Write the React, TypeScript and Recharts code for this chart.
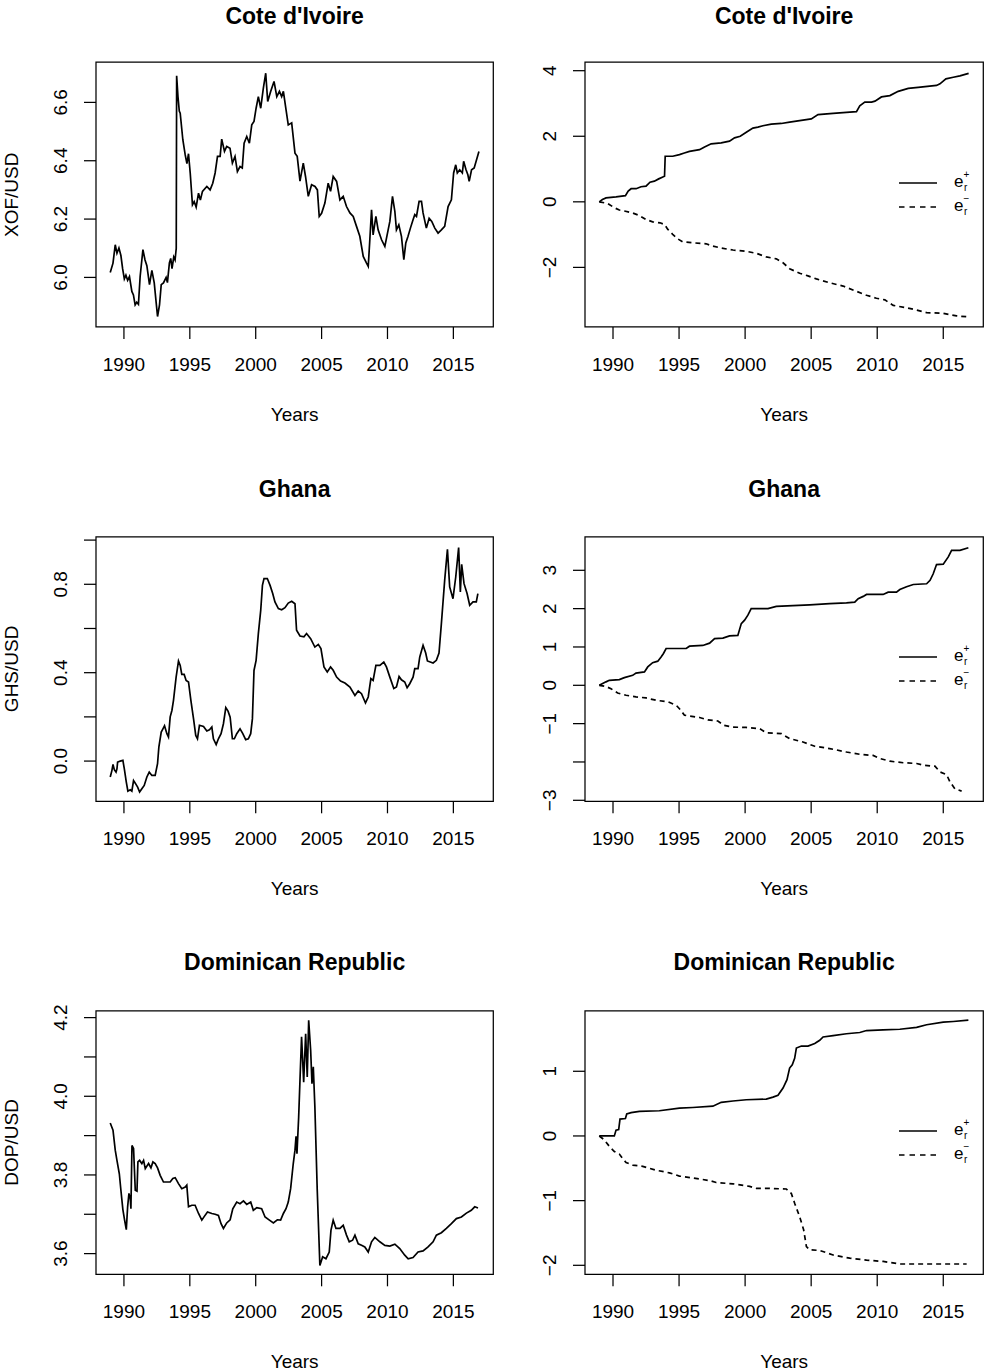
import React from 'react';
import { LineChart, Line, XAxis, YAxis, ReferenceArea, Legend } from 'recharts';

const FONT = '"Liberation Sans", Arial, Helvetica, sans-serif';

const yearTicks = [1990, 1995, 2000, 2005, 2010, 2015];
const yearDomain: [number, number] = [1987.88, 2018.03];

// ---------- Cote d'Ivoire: XOF/USD (log) ----------
const cdiYears = [
  1988.96, 1989.17, 1989.34, 1989.47, 1989.62, 1989.77, 1989.9, 1990.03, 1990.15, 1990.28,
  1990.42, 1990.6, 1990.72, 1990.85, 1990.97, 1991.1, 1991.23, 1991.44, 1991.6, 1991.74,
  1991.94, 1992.12, 1992.3, 1992.45, 1992.55, 1992.7, 1992.83, 1993.0, 1993.2, 1993.3,
  1993.45, 1993.55, 1993.65, 1993.78, 1993.88, 1993.97, 1994.0, 1994.1, 1994.2, 1994.27,
  1994.47, 1994.65, 1994.78, 1994.9, 1995.03, 1995.2, 1995.33, 1995.48, 1995.66, 1995.8,
  1995.96, 1996.29, 1996.54, 1996.74, 1996.92, 1997.1, 1997.3, 1997.42, 1997.63, 1997.8,
  1998.05, 1998.23, 1998.43, 1998.61, 1998.81, 1998.98, 1999.12, 1999.32, 1999.52, 1999.7,
  1999.87, 2000.03, 2000.2, 2000.38, 2000.58, 2000.76, 2000.91, 2001.14, 2001.39, 2001.6,
  2001.8, 2001.97, 2002.1, 2002.3, 2002.47, 2002.73, 2002.98, 2003.15, 2003.36, 2003.61,
  2003.78, 2003.99, 2004.24, 2004.5, 2004.68, 2004.82, 2005.0, 2005.25, 2005.5, 2005.68,
  2005.88, 2006.14, 2006.39, 2006.64, 2006.89, 2007.15, 2007.4, 2007.65, 2007.9, 2008.16,
  2008.41, 2008.54, 2008.66, 2008.79, 2008.91, 2009.12, 2009.29, 2009.55, 2009.8, 2010.05,
  2010.18, 2010.38, 2010.56, 2010.68, 2010.86, 2011.06, 2011.24, 2011.39, 2011.56, 2011.74,
  2011.94, 2012.07, 2012.2, 2012.4, 2012.58, 2012.7, 2012.95, 2013.16, 2013.36, 2013.59,
  2013.84, 2014.09, 2014.34, 2014.6, 2014.85, 2015.02, 2015.18, 2015.3, 2015.48, 2015.68,
  2015.78, 2015.96, 2016.1, 2016.2, 2016.38, 2016.58, 2016.94,
];
const cdiRate = [
  6.017, 6.049, 6.112, 6.083, 6.101, 6.075, 6.03, 5.995, 6.008, 5.99,
  6.003, 5.952, 5.94, 5.906, 5.915, 5.908, 6.003, 6.095, 6.06, 6.04,
  5.975, 6.024, 5.981, 5.912, 5.866, 5.906, 5.975, 5.981, 6.0, 5.982,
  6.05, 6.065, 6.03, 6.07, 6.06, 6.1, 6.691, 6.62, 6.57, 6.563,
  6.472, 6.42, 6.39, 6.424, 6.358, 6.249, 6.26, 6.241, 6.289, 6.265,
  6.295, 6.312, 6.3, 6.323, 6.358, 6.415, 6.415, 6.474, 6.432, 6.449,
  6.443, 6.392, 6.415, 6.363, 6.38, 6.375, 6.46, 6.483, 6.46, 6.523,
  6.535, 6.58, 6.62, 6.58, 6.649, 6.7, 6.603, 6.638, 6.672, 6.62,
  6.638, 6.62, 6.638, 6.575, 6.523, 6.53, 6.426, 6.415, 6.33, 6.392,
  6.346, 6.278, 6.318, 6.312, 6.3, 6.209, 6.22, 6.255, 6.323, 6.295,
  6.346, 6.329, 6.266, 6.278, 6.243, 6.221, 6.209, 6.175, 6.141, 6.072,
  6.049, 6.038, 6.129, 6.232, 6.146, 6.209, 6.163, 6.129, 6.106, 6.163,
  6.192, 6.278, 6.226, 6.163, 6.18, 6.141, 6.061, 6.118, 6.141, 6.169,
  6.198, 6.215, 6.209, 6.261, 6.261, 6.221, 6.169, 6.203, 6.192, 6.169,
  6.152, 6.163, 6.175, 6.243, 6.266, 6.358, 6.386, 6.358, 6.369, 6.358,
  6.398, 6.369, 6.352, 6.329, 6.369, 6.375, 6.432,
];
const cdiPosYears = [
  1988.96, 1989.2, 1989.47, 1990.23, 1990.94, 1991.15, 1991.37, 1991.75, 1992.12, 1992.5,
  1992.8, 1993.13, 1993.46, 1993.77, 1993.9, 1993.95, 1994.52, 1995.03, 1995.4, 1995.79,
  1996.55, 1996.93, 1997.43, 1998.19, 1998.82, 1999.2, 1999.63, 2000.09, 2000.59, 2000.97,
  2001.35, 2001.98, 2002.74, 2003.37, 2004.0, 2005.01, 2005.52, 2006.66, 2007.67, 2008.43,
  2008.68, 2009.06, 2009.57, 2009.83, 2010.32, 2010.96, 2011.59, 2012.35, 2013.1, 2014.49,
  2014.75, 2015.2, 2015.76, 2016.26, 2016.92,
];
const cdiPos = [
  0, 0.07, 0.12, 0.15, 0.19, 0.33, 0.4, 0.4, 0.46, 0.48,
  0.6, 0.63, 0.7, 0.76, 0.78, 1.39, 1.39, 1.44, 1.49, 1.54,
  1.59, 1.67, 1.77, 1.8, 1.85, 1.95, 2.0, 2.12, 2.25, 2.28,
  2.32, 2.37, 2.39, 2.43, 2.47, 2.53, 2.66, 2.7, 2.73, 2.75,
  2.93, 3.04, 3.04, 3.07, 3.2, 3.24, 3.37, 3.46, 3.49, 3.55,
  3.6, 3.75, 3.8, 3.84, 3.92,
];
const cdiNegYears = [
  1988.96, 1989.6, 1990.1, 1990.48, 1990.86, 1991.49, 1992.0, 1992.5, 1993.0, 1993.56,
  1993.9, 1994.15, 1994.52, 1994.9, 1995.28, 1996.04, 1997.05, 1997.56, 1998.19, 1999.08,
  2000.09, 2000.85, 2001.6, 2002.36, 2002.87, 2003.37, 2004.13, 2004.76, 2005.39, 2006.4,
  2007.42, 2008.43, 2009.19, 2009.94, 2010.58, 2011.21, 2012.22, 2012.98, 2013.74, 2015.0,
  2016.01, 2016.92,
];
const cdiNeg = [
  0, -0.05, -0.18, -0.25, -0.28, -0.34, -0.42, -0.54, -0.61, -0.64,
  -0.69, -0.84, -0.99, -1.13, -1.22, -1.25, -1.28, -1.35, -1.41, -1.47,
  -1.51, -1.57, -1.68, -1.74, -1.86, -2.04, -2.18, -2.26, -2.35, -2.47,
  -2.57, -2.73, -2.85, -2.94, -2.99, -3.16, -3.23, -3.3, -3.38, -3.4,
  -3.48, -3.51,
];

// ---------- Ghana: GHS/USD (log) ----------
const ghaYears = [
  1988.96, 1989.09, 1989.17, 1989.27, 1989.4, 1989.47, 1989.52, 1989.72, 1989.92, 1990.03,
  1990.18, 1990.3, 1990.48, 1990.6, 1990.73, 1990.86, 1991.04, 1991.19, 1991.36, 1991.54,
  1991.74, 1991.92, 1992.12, 1992.37, 1992.55, 1992.65, 1992.83, 1992.95, 1993.08, 1993.26,
  1993.38, 1993.51, 1993.64, 1993.76, 1993.96, 1994.14, 1994.27, 1994.39, 1994.57, 1994.72,
  1994.9, 1995.08, 1995.28, 1995.45, 1995.58, 1995.73, 1996.04, 1996.29, 1996.49, 1996.67,
  1996.79, 1997.0, 1997.17, 1997.37, 1997.55, 1997.73, 1997.9, 1998.06, 1998.23, 1998.38,
  1998.56, 1998.81, 1999.02, 1999.24, 1999.44, 1999.62, 1999.75, 1999.87, 2000.03, 2000.2,
  2000.38, 2000.51, 2000.63, 2000.88, 2001.09, 2001.29, 2001.46, 2001.72, 2001.97, 2002.22,
  2002.47, 2002.73, 2002.98, 2003.1, 2003.36, 2003.66, 2003.86, 2004.17, 2004.49, 2004.75,
  2004.95, 2005.18, 2005.43, 2005.68, 2005.88, 2006.14, 2006.44, 2006.77, 2007.15, 2007.53,
  2007.78, 2008.03, 2008.33, 2008.54, 2008.74, 2008.91, 2009.12, 2009.42, 2009.72, 2009.92,
  2010.18, 2010.48, 2010.68, 2010.88, 2011.06, 2011.31, 2011.49, 2011.69, 2011.94, 2012.07,
  2012.32, 2012.45, 2012.7, 2012.9, 2013.03, 2013.46, 2013.71, 2013.91, 2014.09, 2014.34,
  2014.55, 2014.72, 2014.97, 2015.18, 2015.4, 2015.53, 2015.63, 2015.81, 2016.04, 2016.24,
  2016.49, 2016.74, 2016.86,
];
const ghaRate = [
  -0.072, -0.042, -0.015, -0.039, -0.05, -0.035, -0.005, 0.0, 0.003, -0.035,
  -0.095, -0.136, -0.13, -0.136, -0.088, -0.1, -0.118, -0.14, -0.125, -0.11,
  -0.072, -0.05, -0.065, -0.065, -0.012, 0.063, 0.131, 0.145, 0.16, 0.124,
  0.109, 0.2, 0.229, 0.275, 0.38, 0.453, 0.433, 0.392, 0.392, 0.365,
  0.358, 0.275, 0.192, 0.116, 0.101, 0.162, 0.157, 0.136, 0.142, 0.154,
  0.101, 0.075, 0.101, 0.124, 0.169, 0.242, 0.226, 0.199, 0.101, 0.101,
  0.124, 0.146, 0.124, 0.097, 0.101, 0.124, 0.192, 0.41, 0.456, 0.577,
  0.682, 0.795, 0.826, 0.826, 0.795, 0.758, 0.72, 0.69, 0.685, 0.694,
  0.715, 0.723, 0.712, 0.592, 0.566, 0.562, 0.577, 0.554, 0.516, 0.528,
  0.509, 0.426, 0.403, 0.426, 0.411, 0.38, 0.362, 0.353, 0.335, 0.297,
  0.317, 0.305, 0.263, 0.29, 0.373, 0.365, 0.433, 0.433, 0.448, 0.426,
  0.38, 0.328, 0.335, 0.383, 0.368, 0.358, 0.332, 0.35, 0.38, 0.418,
  0.418, 0.471, 0.524, 0.489, 0.453, 0.444, 0.456, 0.489, 0.622, 0.818,
  0.958, 0.788, 0.735, 0.833, 0.966, 0.765, 0.89, 0.803, 0.758, 0.705,
  0.72, 0.72, 0.758,
];
const ghaPosYears = [
  1988.96, 1989.47, 1989.72, 1990.48, 1990.86, 1991.49, 1991.74, 1992.38, 1992.63, 1993.0,
  1993.39, 1993.64, 1993.82, 1994.02, 1995.54, 1995.79, 1996.8, 1997.31, 1997.69, 1998.32,
  1998.82, 1999.45, 1999.71, 1999.96, 2000.21, 2000.46, 2001.73, 2002.36, 2003.62, 2004.89,
  2006.4, 2007.67, 2008.3, 2008.56, 2008.94, 2009.19, 2010.45, 2010.83, 2011.46, 2011.71,
  2012.22, 2012.73, 2013.74, 2014.0, 2014.24, 2014.49, 2015.0, 2015.38, 2015.63, 2016.26,
  2016.9,
];
const ghaPos = [
  0, 0.09, 0.13, 0.15, 0.2, 0.26, 0.32, 0.35, 0.48, 0.59,
  0.63, 0.74, 0.83, 0.96, 0.96, 1.02, 1.04, 1.1, 1.22, 1.23,
  1.29, 1.3, 1.61, 1.7, 1.83, 2.0, 2.0, 2.06, 2.08, 2.1,
  2.13, 2.15, 2.17, 2.26, 2.32, 2.37, 2.37, 2.43, 2.43, 2.5,
  2.57, 2.63, 2.65, 2.74, 2.91, 3.15, 3.16, 3.35, 3.52, 3.52,
  3.59,
];
const ghaNegYears = [
  1988.96, 1989.47, 1989.85, 1990.35, 1990.99, 1991.74, 1992.5, 1993.26, 1994.15, 1994.78,
  1995.03, 1995.41, 1996.55, 1997.18, 1997.94, 1998.37, 1999.08, 2000.09, 2001.1, 2001.6,
  2002.74, 2003.37, 2004.38, 2005.27, 2006.4, 2007.67, 2008.68, 2009.69, 2010.2, 2010.96,
  2011.97, 2012.98, 2013.61, 2014.37, 2014.75, 2015.25, 2015.51, 2015.88, 2016.39,
];
const ghaNeg = [
  0, -0.03, -0.09, -0.2, -0.26, -0.3, -0.33, -0.39, -0.43, -0.52,
  -0.61, -0.78, -0.84, -0.9, -0.93, -1.04, -1.09, -1.1, -1.13, -1.24,
  -1.26, -1.39, -1.48, -1.59, -1.65, -1.74, -1.8, -1.83, -1.91, -1.98,
  -2.02, -2.04, -2.09, -2.11, -2.26, -2.33, -2.52, -2.7, -2.76,
];

// ---------- Dominican Republic: DOP/USD (log) ----------
const domYears = [
  1988.96, 1989.17, 1989.34, 1989.47, 1989.65, 1989.77, 1989.92, 1990.05, 1990.18, 1990.28,
  1990.38, 1990.48, 1990.53, 1990.61, 1990.73, 1990.86, 1990.99, 1991.06, 1991.19, 1991.36,
  1991.49, 1991.62, 1991.87, 1992.05, 1992.2, 1992.37, 1992.55, 1992.75, 1993.0, 1993.26,
  1993.51, 1993.71, 1993.89, 1994.14, 1994.39, 1994.65, 1994.77, 1994.9, 1995.15, 1995.4,
  1995.66, 1995.91, 1996.09, 1996.34, 1996.67, 1996.92, 1997.17, 1997.37, 1997.55, 1997.8,
  1998.06, 1998.26, 1998.56, 1998.81, 1999.07, 1999.32, 1999.62, 1999.82, 2000.08, 2000.45,
  2000.71, 2001.04, 2001.34, 2001.64, 2001.89, 2002.1, 2002.3, 2002.47, 2002.65, 2002.85,
  2002.98, 2003.06, 2003.13, 2003.26, 2003.36, 2003.48, 2003.64, 2003.79, 2003.91, 2004.02,
  2004.17, 2004.27, 2004.37, 2004.49, 2004.67, 2004.87, 2005.08, 2005.33, 2005.58, 2005.71,
  2005.88, 2006.09, 2006.39, 2006.64, 2006.89, 2007.1, 2007.35, 2007.53, 2007.78, 2008.03,
  2008.28, 2008.54, 2008.79, 2009.04, 2009.42, 2009.8, 2010.18, 2010.56, 2010.93, 2011.31,
  2011.57, 2011.94, 2012.32, 2012.7, 2013.08, 2013.46, 2013.71, 2014.09, 2014.47, 2014.85,
  2015.23, 2015.61, 2015.99, 2016.36, 2016.62, 2016.87,
];
const domRate = [
  3.932, 3.914, 3.863, 3.837, 3.803, 3.761, 3.712, 3.685, 3.661, 3.719,
  3.753, 3.74, 3.714, 3.875, 3.867, 3.761, 3.759, 3.833, 3.837, 3.829,
  3.837, 3.816, 3.829, 3.818, 3.833, 3.829, 3.818, 3.799, 3.782, 3.782,
  3.782, 3.791, 3.793, 3.778, 3.765, 3.769, 3.774, 3.719, 3.723, 3.723,
  3.702, 3.685, 3.694, 3.706, 3.702, 3.7, 3.697, 3.676, 3.664, 3.678,
  3.686, 3.714, 3.731, 3.727, 3.734, 3.725, 3.731, 3.71, 3.717, 3.714,
  3.693, 3.685, 3.678, 3.686, 3.685, 3.702, 3.714, 3.731, 3.765, 3.829,
  3.863, 3.898, 3.854, 3.947, 4.041, 4.151, 4.036, 4.159, 4.049, 4.193,
  4.117, 4.032, 4.075, 3.973, 3.761, 3.57, 3.592, 3.587, 3.604, 3.659,
  3.685, 3.664, 3.664, 3.672, 3.647, 3.63, 3.634, 3.647, 3.625, 3.621,
  3.617, 3.604, 3.63, 3.641, 3.63, 3.621, 3.619, 3.624, 3.613, 3.596,
  3.587, 3.59, 3.604, 3.607, 3.617, 3.63, 3.647, 3.653, 3.664, 3.676,
  3.689, 3.693, 3.703, 3.71, 3.719, 3.716,
];
const domPosYears = [
  1988.96, 1990.1, 1990.23, 1990.43, 1990.53, 1990.94, 1991.04, 1991.37, 1992.0, 1993.51,
  1995.03, 1996.04, 1997.56, 1998.19, 1999.08, 2000.09, 2001.6, 2002.11, 2002.49, 2002.87,
  2003.17, 2003.37, 2003.57, 2003.75, 2003.88, 2004.26, 2004.76, 2005.27, 2005.65, 2005.9,
  2006.66, 2007.67, 2008.68, 2009.19, 2010.45, 2011.71, 2012.98, 2013.74, 2015.0, 2015.76,
  2016.9,
];
const domPos = [
  0, 0, 0.09, 0.1, 0.26, 0.27, 0.34, 0.36, 0.38, 0.39,
  0.43, 0.44, 0.46, 0.52, 0.54, 0.56, 0.57, 0.6, 0.63, 0.74,
  0.87, 1.05, 1.1, 1.2, 1.36, 1.39, 1.39, 1.43, 1.48, 1.53,
  1.55, 1.58, 1.6, 1.63, 1.64, 1.65, 1.68, 1.72, 1.76, 1.77,
  1.79,
];
const domNegYears = [
  1988.96, 1989.34, 1989.72, 1990.1, 1990.48, 1990.73, 1990.99, 1991.49, 1992.25, 1993.26,
  1994.27, 1995.03, 1996.04, 1997.31, 1997.81, 1999.08, 2000.34, 2000.85, 2001.6, 2003.12,
  2003.5, 2003.75, 2004.13, 2004.43, 2004.64, 2004.89, 2005.65, 2006.66, 2007.92, 2009.19,
  2010.45, 2011.71, 2012.98, 2014.24, 2015.51, 2016.77,
];
const domNeg = [
  0, -0.06, -0.16, -0.24, -0.28, -0.35, -0.41, -0.45, -0.47, -0.53,
  -0.57, -0.62, -0.65, -0.69, -0.72, -0.74, -0.78, -0.81, -0.81, -0.82,
  -0.89, -1.04, -1.25, -1.45, -1.71, -1.76, -1.77, -1.84, -1.89, -1.92,
  -1.94, -1.98, -1.98, -1.98, -1.98, -1.98,
];

// ---------- axis ticks ----------
const cdiRateTicks = [6.0, 6.2, 6.4, 6.6];
const cdiRateLabels = ['6.0', '6.2', '6.4', '6.6'];
const cdiCumTicks = [-2, 0, 2, 4];
const cdiCumLabels = ['\u22122', '0', '2', '4'];
const ghaRateTicks = [0, 0.2, 0.4, 0.6, 0.8, 1.0];
const ghaRateLabels = ['0.0', '', '0.4', '', '0.8', ''];
const ghaCumTicks = [-3, -2, -1, 0, 1, 2, 3];
const ghaCumLabels = ['\u22123', '', '\u22121', '0', '1', '2', '3'];
const domRateTicks = [3.6, 3.7, 3.8, 3.9, 4.0, 4.1, 4.2];
const domRateLabels = ['3.6', '', '3.8', '', '4.0', '', '4.2'];
const domCumTicks = [-2, -1, 0, 1];
const domCumLabels = ['\u22122', '\u22121', '0', '1'];

const zip = (xs: number[], ys: number[]) =>
  xs.slice(0, Math.min(xs.length, ys.length)).map((x, i) => ({ x, y: ys[i] }));

const ML = 96;
const MT = 12;
const MR = 12;
const MB = 60;
const Y_W = 60;
const X_H = 48;
const LINE_W = 1.7;
const BOX_W = 1.25;

type SeriesDef = { years: number[]; values: number[]; dashed?: boolean; name: string };

type PanelProps = {
  boxLeft: number;
  boxTop: number;
  boxW: number;
  boxH: number;
  yDomain: [number, number];
  yTicks: number[];
  yLabels: string[];
  series: SeriesDef[];
  legend?: boolean;
};

function LegendBox() {
  const tf = { fontFamily: FONT, fill: '#000' } as const;
  return (
    <svg width={90} height={52} style={{ display: 'block', overflow: 'visible' }}>
      <line x1={0} y1={12} x2={38} y2={12} stroke="#000" strokeWidth={1.5} />
      <line x1={0} y1={36} x2={38} y2={36} stroke="#000" strokeWidth={1.5} strokeDasharray="5.5 5" />
      <text x={55} y={15.5} fontSize={17} {...tf}>e</text>
      <text x={64.5} y={6.5} fontSize={10} {...tf}>+</text>
      <text x={65} y={19.5} fontSize={10} {...tf}>r</text>
      <text x={55} y={39.5} fontSize={17} {...tf}>e</text>
      <text x={64.5} y={30.5} fontSize={10} {...tf}>{'\u2212'}</text>
      <text x={65} y={44} fontSize={10} {...tf}>r</text>
    </svg>
  );
}

function Panel(p: PanelProps) {
  const width = ML + p.boxW + MR;
  const height = MT + p.boxH + MB;
  const yTick = (t: any) => {
    const v = t.payload ? t.payload.value : 0;
    const i = p.yTicks.findIndex((k) => Math.abs(k - v) < 1e-6);
    const s = i >= 0 ? p.yLabels[i] : '';
    return (
      <text
        x={t.x}
        y={t.y}
        transform={`rotate(-90 ${t.x} ${t.y})`}
        textAnchor="middle"
        fontSize={19}
        fontFamily={FONT}
        fill="#000"
      >
        {s}
      </text>
    );
  };
  const xTick = (t: any) => (
    <text x={t.x} y={t.y} dy="0.71em" textAnchor="middle" fontSize={19} fontFamily={FONT} fill="#000">
      {t.payload ? t.payload.value : ''}
    </text>
  );
  return (
    <div style={{ position: 'absolute', left: p.boxLeft - ML, top: p.boxTop - MT }}>
      <LineChart
        width={width}
        height={height}
        margin={{ top: MT, right: MR, bottom: MB - X_H, left: ML - Y_W }}
      >
        <XAxis
          type="number"
          dataKey="x"
          domain={yearDomain}
          ticks={yearTicks}
          interval={0}
          allowDataOverflow
          axisLine={false}
          stroke="#000"
          tickLine={{ stroke: '#000', strokeWidth: BOX_W }}
          tickSize={12}
          tickMargin={18.7}
          height={X_H}
          tick={xTick}
        />
        <YAxis
          type="number"
          domain={p.yDomain}
          ticks={p.yTicks}
          interval={0}
          allowDataOverflow
          axisLine={false}
          stroke="#000"
          tickLine={{ stroke: '#000', strokeWidth: BOX_W }}
          tickSize={12}
          tickMargin={17.3}
          width={Y_W}
          tick={yTick}
        />
        <ReferenceArea
          x1={yearDomain[0]}
          x2={yearDomain[1]}
          y1={p.yDomain[0]}
          y2={p.yDomain[1]}
          fill="none"
          fillOpacity={0}
          stroke="#000"
          strokeWidth={BOX_W}
          ifOverflow="visible"
        />
        {p.series.map((s) => (
          <Line
            key={s.name}
            name={s.name}
            data={zip(s.years, s.values)}
            dataKey="y"
            type="linear"
            stroke="#000"
            strokeWidth={LINE_W}
            strokeDasharray={s.dashed ? '5 4' : undefined}
            dot={false}
            activeDot={false}
            isAnimationActive={false}
          />
        ))}
        {p.legend && (
          <Legend
            layout="vertical"
            verticalAlign="middle"
            align="center"
            wrapperStyle={{
              position: 'absolute',
              left: ML + 314,
              top: MT + 108.5,
              width: 90,
              height: 52,
              margin: 0,
              padding: 0,
            }}
            content={() => <LegendBox />}
          />
        )}
      </LineChart>
    </div>
  );
}

const LEFT_X = 96;
const RIGHT_X = 585;
const LEFT_W = 397.3;
const RIGHT_W = 398.3;
const ROW_TOPS = [62.3, 536.7, 1010.7];
const ROW_H = [265, 264.3, 263.3];
const TITLE_BASE = [23.5, 496.5, 969.8];
const titles = ["Cote d'Ivoire", 'Ghana', 'Dominican Republic'];
const yNames = ['XOF/USD', 'GHS/USD', 'DOP/USD'];

export default function App() {
  const leftC = LEFT_X + LEFT_W / 2;
  const rightC = RIGHT_X + RIGHT_W / 2;
  return (
    <div
      style={{
        position: 'absolute',
        left: 0,
        top: 0,
        width: 986,
        height: 1372,
        background: '#fff',
        overflow: 'hidden',
      }}
    >
      <Panel
        boxLeft={LEFT_X}
        boxTop={ROW_TOPS[0]}
        boxW={LEFT_W}
        boxH={ROW_H[0]}
        yDomain={[5.83, 6.7385]}
        yTicks={cdiRateTicks}
        yLabels={cdiRateLabels}
        series={[{ name: 'rate', years: cdiYears, values: cdiRate }]}
      />
      <Panel
        boxLeft={RIGHT_X}
        boxTop={ROW_TOPS[0]}
        boxW={RIGHT_W}
        boxH={ROW_H[0]}
        yDomain={[-3.818, 4.265]}
        yTicks={cdiCumTicks}
        yLabels={cdiCumLabels}
        series={[
          { name: 'pos', years: cdiPosYears, values: cdiPos },
          { name: 'neg', years: cdiNegYears, values: cdiNeg, dashed: true },
        ]}
        legend
      />
      <Panel
        boxLeft={LEFT_X}
        boxTop={ROW_TOPS[1]}
        boxW={LEFT_W}
        boxH={ROW_H[1]}
        yDomain={[-0.182, 1.014]}
        yTicks={ghaRateTicks}
        yLabels={ghaRateLabels}
        series={[{ name: 'rate', years: ghaYears, values: ghaRate }]}
      />
      <Panel
        boxLeft={RIGHT_X}
        boxTop={ROW_TOPS[1]}
        boxW={RIGHT_W}
        boxH={ROW_H[1]}
        yDomain={[-3.026, 3.869]}
        yTicks={ghaCumTicks}
        yLabels={ghaCumLabels}
        series={[
          { name: 'pos', years: ghaPosYears, values: ghaPos },
          { name: 'neg', years: ghaNegYears, values: ghaNeg, dashed: true },
        ]}
        legend
      />
      <Panel
        boxLeft={LEFT_X}
        boxTop={ROW_TOPS[2]}
        boxW={LEFT_W}
        boxH={ROW_H[2]}
        yDomain={[3.5474, 4.2168]}
        yTicks={domRateTicks}
        yLabels={domRateLabels}
        series={[{ name: 'rate', years: domYears, values: domRate }]}
      />
      <Panel
        boxLeft={RIGHT_X}
        boxTop={ROW_TOPS[2]}
        boxW={RIGHT_W}
        boxH={ROW_H[2]}
        yDomain={[-2.139, 1.932]}
        yTicks={domCumTicks}
        yLabels={domCumLabels}
        series={[
          { name: 'pos', years: domPosYears, values: domPos },
          { name: 'neg', years: domNegYears, values: domNeg, dashed: true },
        ]}
        legend
      />
      <svg
        width={986}
        height={1372}
        style={{ position: 'absolute', left: 0, top: 0, pointerEvents: 'none' }}
      >
        {titles.map((t, r) => (
          <g key={t}>
            <text x={leftC} y={TITLE_BASE[r]} textAnchor="middle" fontSize={23} fontWeight="bold" fontFamily={FONT} fill="#000">
              {t}
            </text>
            <text x={rightC} y={TITLE_BASE[r]} textAnchor="middle" fontSize={23} fontWeight="bold" fontFamily={FONT} fill="#000">
              {t}
            </text>
            <text x={leftC} y={ROW_TOPS[r] + ROW_H[r] + 94} textAnchor="middle" fontSize={19} fontFamily={FONT} fill="#000">
              Years
            </text>
            <text x={rightC} y={ROW_TOPS[r] + ROW_H[r] + 94} textAnchor="middle" fontSize={19} fontFamily={FONT} fill="#000">
              Years
            </text>
            <text
              x={18.5}
              y={ROW_TOPS[r] + ROW_H[r] / 2}
              transform={`rotate(-90 18.5 ${ROW_TOPS[r] + ROW_H[r] / 2})`}
              textAnchor="middle"
              fontSize={19}
              fontFamily={FONT}
              fill="#000"
            >
              {yNames[r]}
            </text>
          </g>
        ))}
      </svg>
    </div>
  );
}
